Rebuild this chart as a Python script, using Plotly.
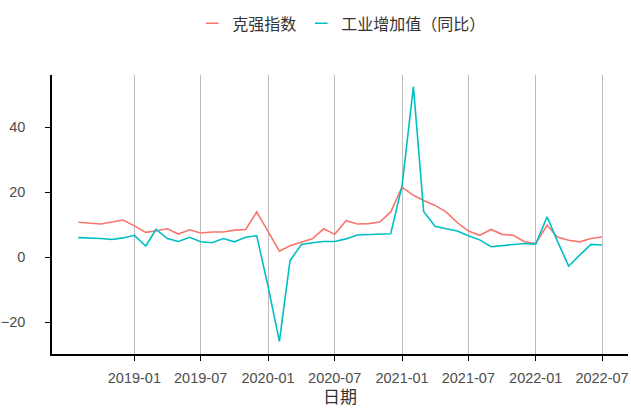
import plotly.graph_objects as go
import pandas as pd

dates = pd.date_range("2018-08-01", "2022-07-01", freq="MS")

keqiang = [10.7, 10.4, 10.2, 10.8, 11.4, 9.6, 7.6, 8.1, 8.7, 7.1, 8.4, 7.4,
           7.7, 7.7, 8.3, 8.5, 13.9, 7.9, 1.8, 3.5, 4.5, 5.6, 8.7, 7.0,
           11.2, 10.2, 10.3, 10.8, 13.9, 21.5, 19.0, 17.4, 15.9, 13.9, 10.6, 8.0,
           6.7, 8.5, 7.0, 6.7, 4.7, 4.2, 9.8, 6.2, 5.2, 4.7, 5.7, 6.2]

industry = [6.0, 5.9, 5.7, 5.4, 5.9, 6.7, 3.4, 8.5, 5.7, 4.8, 6.1, 4.7,
            4.4, 5.7, 4.7, 6.1, 6.6, -9.0, -25.9, -1.1, 3.9, 4.4, 4.8, 4.8,
            5.6, 6.8, 6.9, 7.0, 7.2, 22.0, 52.4, 14.0, 9.5, 8.7, 8.0, 6.6,
            5.3, 3.2, 3.6, 3.9, 4.2, 4.0, 12.4, 5.0, -2.8, 0.6, 3.9, 3.7]

series_names = ["克强指数", "工业增加值（同比）"]
colors = ["#F8766D", "#00BFC4"]

x_ticks = ["2019-01-01", "2019-07-01", "2020-01-01", "2020-07-01",
           "2021-01-01", "2021-07-01", "2022-01-01", "2022-07-01"]
x_tick_labels = ["2019-01", "2019-07", "2020-01", "2020-07",
                 "2021-01", "2021-07", "2022-01", "2022-07"]
y_ticks = [-20, 0, 20, 40]

FONT = "Liberation Sans, Arial, Noto Sans CJK SC, sans-serif"

fig = go.Figure()
for name, vals, c in zip(series_names, [keqiang, industry], colors):
    fig.add_trace(go.Scatter(x=dates, y=vals, mode="lines", name=name,
                             line=dict(color=c, width=1.6), showlegend=False))
    # legend key (short dash like ggplot)
    fig.add_trace(go.Scatter(x=[None], y=[None], mode="markers", name=name,
                             marker=dict(symbol="line-ew", size=9,
                                         line=dict(color=c, width=1.5)),
                             showlegend=True))

fig.update_layout(
    width=631, height=408,
    margin=dict(l=52, r=3, t=75, b=54, autoexpand=False),
    paper_bgcolor="white", plot_bgcolor="white",
    font=dict(family=FONT, color="#4d4d4d"),
    legend=dict(orientation="h", x=0.503, xanchor="center", y=1.185,
                yanchor="middle", font=dict(size=16, color="#333333"),
                itemwidth=30, bgcolor="rgba(0,0,0,0)"),
    xaxis=dict(
        range=["2018-05-21", "2022-09-10"],
        tickvals=x_ticks, ticktext=x_tick_labels,
        tickfont=dict(size=14.5, color="#4d4d4d"),
        showgrid=True, gridcolor="#bebebe", gridwidth=1,
        showline=True, linecolor="black", linewidth=1.5,
        ticks="outside", ticklen=5, tickcolor="black", tickwidth=1,
        ticklabelstandoff=5,
        zeroline=False, automargin=False,
        title=dict(text="日期", font=dict(size=17, color="#333333"), standoff=6),
    ),
    yaxis=dict(
        range=[-29.8, 56.0],
        tickvals=y_ticks,
        tickfont=dict(size=14.5, color="#4d4d4d"),
        showgrid=False,
        showline=True, linecolor="black", linewidth=1.5,
        ticks="outside", ticklen=5, tickcolor="black", tickwidth=1,
        ticklabelstandoff=17,
        zeroline=False, automargin=False,
    ),
)

fig.write_html("out.html",
               config={"displayModeBar": False},
               post_script="document.body.style.margin='0';document.body.style.overflow='hidden';")
